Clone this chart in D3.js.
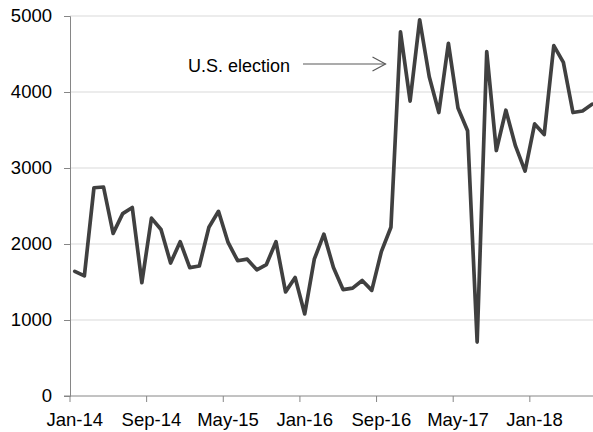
<!DOCTYPE html>
<html>
<head>
<meta charset="utf-8">
<script src="https://cdn.jsdelivr.net/npm/d3@7/dist/d3.min.js"></script>
<style>
  html, body { margin: 0; padding: 0; background: #fff; }
  svg { display: block; font-family: "Liberation Sans", Arial, sans-serif; }
</style>
</head>
<body>
<svg id="chart" width="593" height="432"></svg>
<script>
// Monthly counts, Jan-14 through Jul-18
const months = [
  "Jan-14","Feb-14","Mar-14","Apr-14","May-14","Jun-14","Jul-14","Aug-14",
  "Sep-14","Oct-14","Nov-14","Dec-14","Jan-15","Feb-15","Mar-15","Apr-15",
  "May-15","Jun-15","Jul-15","Aug-15","Sep-15","Oct-15","Nov-15","Dec-15",
  "Jan-16","Feb-16","Mar-16","Apr-16","May-16","Jun-16","Jul-16","Aug-16",
  "Sep-16","Oct-16","Nov-16","Dec-16","Jan-17","Feb-17","Mar-17","Apr-17",
  "May-17","Jun-17","Jul-17","Aug-17","Sep-17","Oct-17","Nov-17","Dec-17",
  "Jan-18","Feb-18","Mar-18","Apr-18","May-18","Jun-18","Jul-18"
];
const values = [
  1640, 1580, 2740, 2750, 2140, 2400, 2480, 1490,
  2340, 2190, 1750, 2030, 1690, 1710, 2220, 2430,
  2020, 1780, 1800, 1660, 1730, 2030, 1370, 1560,
  1080, 1800, 2130, 1690, 1400, 1420, 1520, 1390,
  1900, 2220, 4790, 3880, 4950, 4200, 3730, 4640,
  3790, 3490, 710, 4530, 3230, 3760, 3290, 2960,
  3580, 3440, 4610, 4390, 3730, 3750, 3840
];
const xTickLabels = ["Jan-14","Sep-14","May-15","Jan-16","Sep-16","May-17","Jan-18"];
const yTicks = [0, 1000, 2000, 3000, 4000, 5000];
const annotationText = "U.S. election";
const annotationMonth = "Nov-16";

const svg = d3.select("#chart");
const plotLeft = 70, plotTop = 16, plotBottom = 396;
const step = 9.58;
const plotRight = plotLeft + step * months.length;

const x = d3.scaleBand().domain(months).range([plotLeft, plotRight]).paddingInner(0).paddingOuter(0);
const y = d3.scaleLinear().domain([0, 5000]).range([plotBottom, plotTop]);

// gridlines
svg.append("g")
  .selectAll("line")
  .data(yTicks.filter(d => d > 0))
  .join("line")
  .attr("x1", plotLeft).attr("x2", 593)
  .attr("y1", d => y(d)).attr("y2", d => y(d))
  .attr("stroke", "#d9d9d9").attr("stroke-width", 1);

// y axis
const yAxis = svg.append("g")
  .attr("transform", `translate(${plotLeft},0)`)
  .call(d3.axisLeft(y).tickValues(yTicks).tickSize(6).tickPadding(12).tickFormat(d3.format("d")));
yAxis.select(".domain").attr("stroke", "#868686");
yAxis.selectAll(".tick line").attr("stroke", "#868686");
yAxis.selectAll(".tick text")
  .attr("fill", "#000").style("font-size", "18.5px")
  .style("font-family", "'Liberation Sans', Arial, sans-serif");

// x axis: ticks on category boundaries, labels centred on the month
const xg = svg.append("g").attr("transform", `translate(0,${plotBottom})`);
xg.append("line").attr("x1", plotLeft - 6).attr("x2", 593)
  .attr("stroke", "#868686");
xg.selectAll(".xt")
  .data(xTickLabels)
  .join("line")
  .attr("class", "xt")
  .attr("x1", d => x(d)).attr("x2", d => x(d))
  .attr("y1", 0).attr("y2", 6)
  .attr("stroke", "#868686");
xg.selectAll("text")
  .data(xTickLabels)
  .join("text")
  .attr("x", d => x(d) + x.bandwidth() / 2)
  .attr("y", 30)
  .attr("text-anchor", "middle")
  .attr("fill", "#000")
  .style("font-size", "18.5px")
  .text(d => d);

// series line
const line = d3.line()
  .x((d, i) => x(months[i]) + x.bandwidth() / 2)
  .y(d => y(d));

svg.append("path")
  .datum(values)
  .attr("d", line)
  .attr("fill", "none")
  .attr("stroke", "#404040")
  .attr("stroke-width", 3.7)
  .attr("stroke-linejoin", "round")
  .attr("stroke-linecap", "round");

// annotation with arrow pointing toward the election month
const ax = x(annotationMonth) + x.bandwidth() / 2;
const ay = 64;
svg.append("text")
  .attr("x", 188).attr("y", 72)
  .attr("fill", "#000")
  .style("font-size", "18px")
  .text(annotationText);
const arrowEnd = ax - 15;
svg.append("line")
  .attr("x1", 303).attr("x2", arrowEnd)
  .attr("y1", ay).attr("y2", ay)
  .attr("stroke", "#595959").attr("stroke-width", 1.2);
svg.append("path")
  .attr("d", `M${arrowEnd - 13},${ay - 7} L${arrowEnd},${ay} L${arrowEnd - 13},${ay + 7}`)
  .attr("fill", "none")
  .attr("stroke", "#595959").attr("stroke-width", 1.2);
</script>
</body>
</html>
